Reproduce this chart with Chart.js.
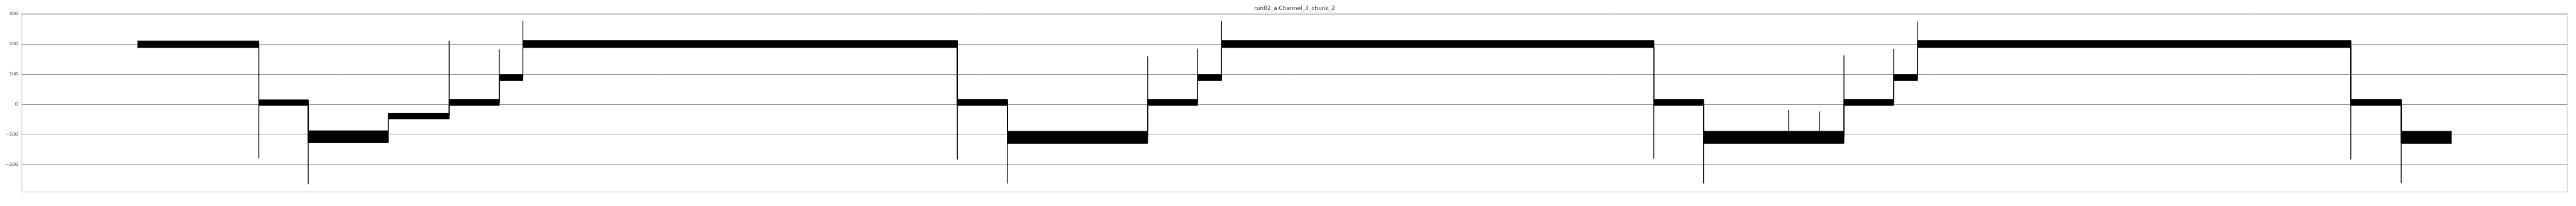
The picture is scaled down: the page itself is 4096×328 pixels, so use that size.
<!DOCTYPE html>
<html>
<head>
<meta charset="utf-8">
<script src="https://cdn.jsdelivr.net/npm/chart.js@4/dist/chart.umd.min.js"></script>
<style>
  body { margin: 0; background: #fff; }
  #caixa { width: 4096px; height: 328px; }
</style>
</head>
<body>
<div id="caixa"><canvas id="grafico"></canvas></div>
<script>
var titulo = 'run02_a.Channel_3_chunk_2'

// trechos do sinal (inicio, fim, topo e fundo da faixa de ruido)
var segStart = [1000000, 1026250, 1036920, 1054220, 1067375, 1078210, 1083300, 1177150, 1187980, 1218270, 1229050, 1234230, 1327600, 1338340, 1368680, 1379410, 1384590, 1478170, 1489060]
var segEnd = [1026250, 1036920, 1054220, 1067375, 1078210, 1083300, 1177150, 1187980, 1218270, 1229050, 1234230, 1327600, 1338340, 1368680, 1379410, 1384590, 1478170, 1489060, 1500000]
var segTop = [211, 15, -88, -30, 16, 99, 212, 16, -90, 16, 99, 212, 16, -90, 16, 99, 212, 16, -90]
var segBottom = [189, -4, -128, -49, -4, 79, 189, -4, -130, -4, 79, 189, -4, -130, -4, 79, 189, -4, -130]

// picos nas transicoes
var spikeX = [1026250, 1036920, 1067375, 1078210, 1083300, 1177150, 1187980, 1218270, 1229050, 1234230, 1327600, 1338340, 1356720, 1363400, 1368680, 1379410, 1384590, 1478170, 1489060]
var spikeFrom = [200, 5, -40, 5, 90, 200, 5, -110, 5, 90, 200, 5, -110, -110, -110, 5, 90, 200, 5]
var spikeTo = [-180, -266, 212, 183, 279, -184, -264, 160, 185, 278, -181, -264, -18, -24, 163, 184, 275, -184, -263]

// ticks com rotulo
var xMajor = [1000000, 1100000, 1200000, 1300000, 1400000, 1500000]
var yMajor = [-200, -100, 0, 100, 200, 300]

var superior = []
var inferior = []
for (var i = 0; i < segStart.length; i++) {
  superior.push({x: segStart[i], y: segTop[i]}, {x: segEnd[i], y: segTop[i]})
  inferior.push({x: segStart[i], y: segBottom[i]}, {x: segEnd[i], y: segBottom[i]})
}

var picos = []
for (var j = 0; j < spikeX.length; j++) {
  picos.push({x: spikeX[j], y: spikeFrom[j]}, {x: spikeX[j], y: spikeTo[j]}, {x: spikeX[j], y: null})
}

function ehMajor(lista, v) {
  return lista.indexOf(Math.round(v)) >= 0
}

// moldura e titulo centralizado na area do grafico
var moldura = {
  id: 'moldura',
  afterDraw: function (chart) {
    var ctx = chart.ctx
    var a = chart.chartArea
    ctx.save()
    ctx.strokeStyle = '#cccccc'
    ctx.lineWidth = 1
    ctx.strokeRect(a.left + 0.5, a.top + 0.5, a.right - a.left - 1, a.bottom - a.top - 1)
    ctx.fillStyle = '#262626'
    ctx.font = '9px "DejaVu Sans"'
    ctx.textAlign = 'center'
    ctx.textBaseline = 'alphabetic'
    ctx.fillText(titulo, (a.left + a.right) / 2, 16.2)
    ctx.restore()
  }
}

Chart.defaults.font.family = '"DejaVu Sans"'

var ctxSinal = document.getElementById('grafico').getContext('2d')
var configSinal = {
  type: 'line',
  data: {
    datasets: [
      {
        data: superior,
        borderColor: '#000',
        backgroundColor: '#000',
        borderWidth: 1,
        pointRadius: 0,
        fill: '+1'
      },
      {
        data: inferior,
        borderColor: '#000',
        borderWidth: 1,
        pointRadius: 0,
        fill: false
      },
      {
        data: picos,
        borderColor: '#000',
        borderWidth: 1.3,
        pointRadius: 0,
        spanGaps: false,
        fill: false
      }
    ]
  },
  options: {
    responsive: true,
    maintainAspectRatio: false,
    animation: false,
    devicePixelRatio: 1,
    layout: { padding: { top: 20.7, right: 13.4, left: 0, bottom: 0 } },
    plugins: { legend: { display: false }, tooltip: { enabled: false } },
    scales: {
      x: {
        type: 'linear',
        min: 975000,
        max: 1525000,
        afterFit: function (s) { s.height = 21.8 },
        border: { display: false },
        grid: {
          drawTicks: false,
          color: function (c) { return ehMajor(xMajor, c.tick.value) ? '#8c8c8c' : '#e5e5e5' }
        },
        ticks: {
          stepSize: 20000,
          includeBounds: false,
          autoSkip: false,
          maxRotation: 0,
          maxTicksLimit: 100,
          padding: 4,
          color: '#333',
          font: { size: 7.1 },
          callback: function (v) { return ehMajor(xMajor, v) ? String(Math.round(v)) : null }
        }
      },
      y: {
        min: -293,
        max: 304,
        afterFit: function (s) { s.width = 34.3 },
        border: { display: false },
        grid: {
          drawTicks: false,
          color: function (c) { return ehMajor(yMajor, c.tick.value) ? '#8c8c8c' : '#e5e5e5' }
        },
        ticks: {
          stepSize: 20,
          includeBounds: false,
          autoSkip: false,
          maxTicksLimit: 100,
          padding: 6,
          color: '#333',
          font: { size: 7.1 },
          callback: function (v) {
            if (!ehMajor(yMajor, v)) return null
            return v < 0 ? '\u2212' + Math.abs(Math.round(v)) : String(Math.round(v))
          }
        }
      }
    }
  },
  plugins: [moldura]
}
var grafico = new Chart(ctxSinal, configSinal)
</script>
</body>
</html>
